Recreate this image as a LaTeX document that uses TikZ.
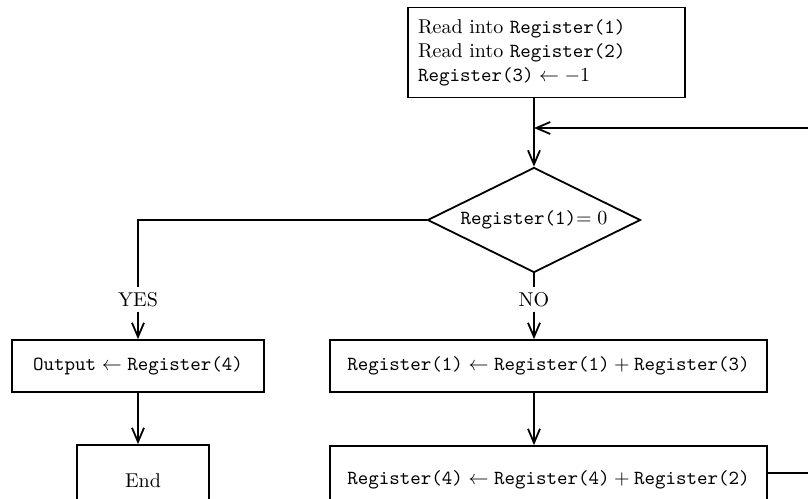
\documentclass[tikz,border=0pt]{standalone}
\usetikzlibrary{shapes.geometric,arrows.meta}
\begin{document}
\begin{tikzpicture}[x=0.5pt,y=-0.5pt,line width=0.9pt,
  conn/.style={draw,line width=0.9pt,-{Straight Barb[length=7pt,width=6pt]}},
  box/.style={draw,rectangle,inner sep=0pt,line width=0.9pt},
  decision/.style={draw,diamond,aspect=2,inner sep=0pt,line width=0.9pt,
    minimum width=106.5pt,minimum height=52.5pt},
  lbl/.style={fill=white,inner xsep=1pt,inner ysep=2.5pt}]
\path[use as bounding box] (0,0) rectangle (808,498);
\clip (0,0) rectangle (808,498);
\node[box,align=left,text width=128.5pt,inner xsep=5pt,minimum height=45pt,
  font={\fontsize{10pt}{12pt}\selectfont}] (top) at (546.5,52.5)
  {Read into \texttt{Register(1)}\\ Read into \texttt{Register(2)}\\ $\texttt{Register(3)}\leftarrow -1$};
\node[decision] (dia) at (534,220) {\texttt{Register(1)}$=0$};
\node[box,minimum width=126pt,minimum height=26pt] (out) at (138,366)
  {$\texttt{Output}\leftarrow\texttt{Register(4)}$};
\node[box,minimum width=66pt,minimum height=36pt] (endb) at (143,481) {End};
\node[box,minimum width=218.5pt,minimum height=26pt] (b1) at (548.5,366)
  {$\texttt{Register(1)}\leftarrow\texttt{Register(1)}+\texttt{Register(3)}$};
\node[box,minimum width=218.5pt,minimum height=34pt] (b2) at (548.5,480)
  {$\texttt{Register(4)}\leftarrow\texttt{Register(4)}+\texttt{Register(2)}$};
\coordinate (r1) at (840,473);
\coordinate (r2) at (840,128);
\path[conn] (top.south -| dia.north) -- (dia.north);
\path[conn] (dia.west) -| node[lbl,pos=0.833] {YES} (out.north);
\path[conn] (dia.south) -- node[lbl,pos=0.4] {NO} (b1.north -| dia.south);
\path[conn] (out.south) -- (out.south |- endb.north);
\path[conn] (b1.south -| dia.south) -- (b2.north -| dia.south);
\path[conn] (r1 -| b2.east) -- (r1) -- (r2) -- (r2 -| dia.north);
\end{tikzpicture}
\end{document}
